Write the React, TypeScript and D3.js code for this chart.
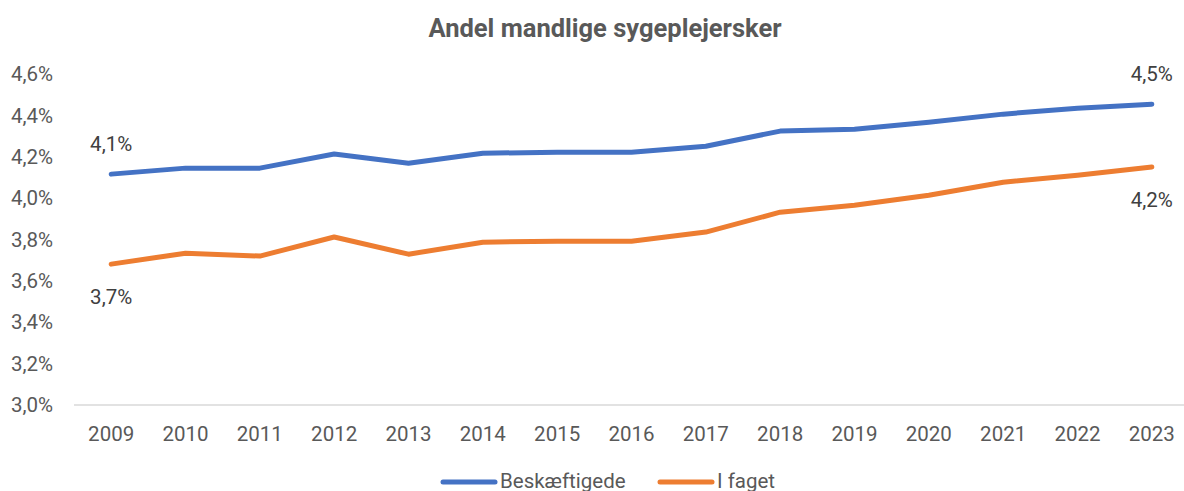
import React, { useEffect, useRef } from 'react';
import * as d3 from 'd3';

const years = ['2009', '2010', '2011', '2012', '2013', '2014', '2015', '2016', '2017', '2018', '2019', '2020', '2021', '2022', '2023'];
const beskaeftigede = [4.116, 4.145, 4.145, 4.213, 4.169, 4.217, 4.222, 4.222, 4.251, 4.324, 4.333, 4.367, 4.406, 4.435, 4.454];
const iFaget = [3.681, 3.734, 3.72, 3.812, 3.729, 3.787, 3.792, 3.792, 3.836, 3.932, 3.966, 4.014, 4.077, 4.111, 4.15];
const yTicks = [3.0, 3.2, 3.4, 3.6, 3.8, 4.0, 4.2, 4.4, 4.6];
const seriesNames = ['Beskæftigede', 'I faget'];

export default function App(): JSX.Element {
  const svgRef = useRef<SVGSVGElement>(null);

  useEffect(() => {
    const el = svgRef.current;
    if (el == null) {
      return;
    }
    const svg = d3.select(el);
    svg.selectAll('*').remove();

    const W = 1184;
    const H = 491;
    const FONT = 'Roboto, "Liberation Sans", sans-serif';
    const BLUE = '#4472C4';
    const ORANGE = '#ED7D31';
    const LABEL_SIZE = 20.5;
    const fmt = (v: number, d: number) => v.toFixed(d).replace('.', ',') + '%';

    const x = d3.scalePoint<string>().domain(years).range([74, 1189]).padding(0.5);
    const y = d3.scaleLinear().domain([3.0, 4.6]).range([405, 74]);

    svg.append('rect').attr('width', W).attr('height', H).attr('fill', 'white');

    // title
    svg
      .append('text')
      .attr('x', 605)
      .attr('y', 37)
      .attr('text-anchor', 'middle')
      .attr('font-family', FONT)
      .attr('font-weight', 'bold')
      .attr('font-size', 25.5)
      .attr('fill', '#595959')
      .text('Andel mandlige sygeplejersker');

    // baseline
    svg
      .append('line')
      .attr('x1', 74)
      .attr('x2', 1189)
      .attr('y1', y(3.0))
      .attr('y2', y(3.0))
      .attr('stroke', '#d9d9d9')
      .attr('stroke-width', 1.5);

    // y tick labels
    svg
      .selectAll('.ytick')
      .data(yTicks)
      .enter()
      .append('text')
      .attr('x', 53)
      .attr('y', (d) => y(d))
      .attr('dy', '0.35em')
      .attr('text-anchor', 'end')
      .attr('font-family', FONT)
      .attr('font-size', LABEL_SIZE)
      .attr('fill', '#595959')
      .text((d) => fmt(d, 1));

    // x tick labels
    svg
      .selectAll('.xtick')
      .data(years)
      .enter()
      .append('text')
      .attr('x', (d) => x(d) || 0)
      .attr('y', 441)
      .attr('text-anchor', 'middle')
      .attr('font-family', FONT)
      .attr('font-size', LABEL_SIZE)
      .attr('fill', '#595959')
      .text((d) => d);

    const line = d3
      .line<number>()
      .x((_, i) => x(years[i]) || 0)
      .y((d) => y(d));

    const series = [
      { name: seriesNames[0], values: beskaeftigede, color: BLUE, labelDy: -30 },
      { name: seriesNames[1], values: iFaget, color: ORANGE, labelDy: 33 }
    ];

    series.forEach((s) => {
      svg
        .append('path')
        .datum(s.values)
        .attr('d', line)
        .attr('fill', 'none')
        .attr('stroke', s.color)
        .attr('stroke-width', 5)
        .attr('stroke-linecap', 'round')
        .attr('stroke-linejoin', 'round');

      // data labels at first and last points
      [0, s.values.length - 1].forEach((i) => {
        svg
          .append('text')
          .attr('x', x(years[i]) || 0)
          .attr('y', y(s.values[i]) + s.labelDy)
          .attr('dy', '0.35em')
          .attr('text-anchor', 'middle')
          .attr('font-family', FONT)
          .attr('font-size', LABEL_SIZE)
          .attr('fill', '#404040')
          .text(fmt(s.values[i], 1));
      });
    });

    // legend (sits at the bottom edge, as in the original)
    const legendX = [441, 658];
    series.forEach((s, i) => {
      const lx = legendX[i];
      svg
        .append('line')
        .attr('x1', lx + 2)
        .attr('x2', lx + 54)
        .attr('y1', 482)
        .attr('y2', 482)
        .attr('stroke', s.color)
        .attr('stroke-width', 5)
        .attr('stroke-linecap', 'round');
      svg
        .append('text')
        .attr('x', lx + 59)
        .attr('y', 481)
        .attr('dy', '0.35em')
        .attr('font-family', FONT)
        .attr('font-size', LABEL_SIZE)
        .attr('fill', '#595959')
        .text(s.name);
    });
  });

  return (
    <svg
      ref={svgRef}
      width={1184}
      height={491}
      style={{ position: 'absolute', left: 0, top: 0, display: 'block' }}
    />
  );
}
